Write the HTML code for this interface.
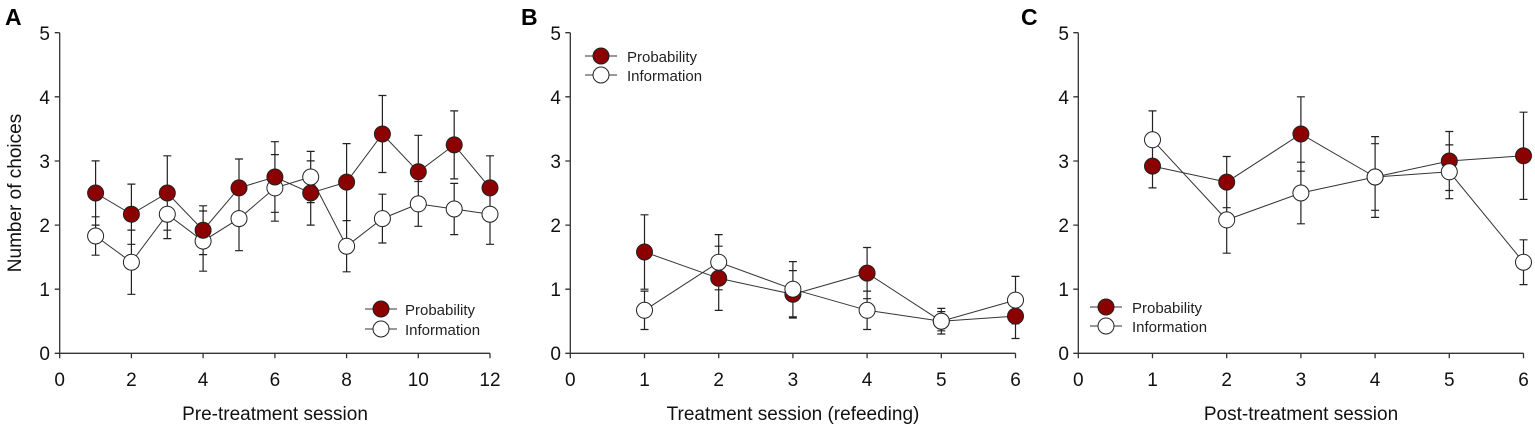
<!DOCTYPE html>
<html><head><meta charset="utf-8"><style>
html,body{margin:0;padding:0;background:#fff;}
svg{display:block;font-family:"Liberation Sans",Arial,sans-serif;}
.ax{stroke:#333;stroke-width:1.3;fill:none}
.eb{stroke:#222;stroke-width:1.2;fill:none}
.ln{stroke:#333;stroke-width:1;fill:none}
.p{fill:#8b0000;stroke:#222;stroke-width:1}
.i{fill:#fff;stroke:#222;stroke-width:1}
.tk{font-size:19px;fill:#111}
.tt{font-size:19px;fill:#111}
.lg{font-size:15px;fill:#222}
.let{font-size:23px;font-weight:bold;fill:#000}
circle{r:8px}
</style></head><body>
<svg width="1535" height="429" viewBox="0 0 1535 429">
<text class="let" x="5" y="25">A</text>
<text class="let" x="521" y="25">B</text>
<text class="let" x="1021" y="25">C</text>

<!-- ===== Panel A ===== -->
<path class="ax" d="M59.7 32.7 V353.3 H490 M54.7 32.7 H59.7 M54.7 96.8 H59.7 M54.7 161 H59.7 M54.7 225.1 H59.7 M54.7 289.2 H59.7 M54.7 353.3 H59.7
M59.7 353.3 V358.3 M131.4 353.3 V358.3 M203.1 353.3 V358.3 M274.9 353.3 V358.3 M346.6 353.3 V358.3 M418.3 353.3 V358.3 M490 353.3 V358.3"/>
<g class="tk" text-anchor="end">
<text x="50" y="40">5</text><text x="50" y="104">4</text><text x="50" y="168">3</text><text x="50" y="232">2</text><text x="50" y="296">1</text><text x="50" y="360">0</text>
</g>
<g class="tk" text-anchor="middle">
<text x="59.7" y="386">0</text><text x="131.4" y="386">2</text><text x="203.1" y="386">4</text><text x="274.9" y="386">6</text><text x="346.6" y="386">8</text><text x="418.3" y="386">10</text><text x="490" y="386">12</text>
</g>
<text class="tt" x="275" y="420" text-anchor="middle">Pre-treatment session</text>
<text class="tt" x="21" y="193" text-anchor="middle" transform="rotate(-90 21 193)">Number of choices</text>

<path class="eb" d="
M95.6 160.9V225.1M91.6 160.9H99.6M91.6 225.1H99.6
M131.4 184.1V244.3M127.4 184.1H135.4M127.4 244.3H135.4
M167.3 155.8V230.2M163.3 155.8H171.3M163.3 230.2H171.3
M203.1 205.8V254.6M199.1 205.8H207.1M199.1 254.6H207.1
M239 159V216.8M235 159H243M235 216.8H243
M274.9 141.7V212.3M270.9 141.7H278.9M270.9 212.3H278.9
M310.7 160.9V225.1M306.7 160.9H314.7M306.7 225.1H314.7
M346.6 143.6V220.6M342.6 143.6H350.6M342.6 220.6H350.6
M382.4 95.5V172.5M378.4 95.5H386.4M378.4 172.5H386.4
M418.3 135.3V208.3M414.3 135.3H422.3M414.3 208.3H422.3
M454.2 110.9V178.9M450.2 110.9H458.2M450.2 178.9H458.2
M490 155.8V220M486 155.8H494M486 220H494
M95.6 216.8V255.2M91.6 216.8H99.6M91.6 255.2H99.6
M131.4 230.1V294.3M127.4 230.1H135.4M127.4 294.3H135.4
M167.3 189.8V238.6M163.3 189.8H171.3M163.3 238.6H171.3
M203.1 211V271.2M199.1 211H207.1M199.1 271.2H207.1
M239 186.5V250.7M235 186.5H243M235 250.7H243
M274.9 154.6V221.2M270.9 154.6H278.9M270.9 221.2H278.9
M310.7 151.4V202.6M306.7 151.4H314.7M306.7 202.6H314.7
M346.6 220.6V271.8M342.6 220.6H350.6M342.6 271.8H350.6
M382.4 194.2V243M378.4 194.2H386.4M378.4 243H386.4
M418.3 181.5V226.3M414.3 181.5H422.3M414.3 226.3H422.3
M454.2 183.4V234.6M450.2 183.4H458.2M450.2 234.6H458.2
M490 184.1V244.3M486 184.1H494M486 244.3H494"/>
<polyline class="ln" points="95.6,236 131.4,262.2 167.3,214.2 203.1,241.1 239,218.6 274.9,187.9 310.7,177 346.6,246.2 382.4,218.6 418.3,203.9 454.2,209 490,214.2"/>
<polyline class="ln" points="95.6,193 131.4,214.2 167.3,193 203.1,230.2 239,187.9 274.9,177 310.7,193 346.6,182.1 382.4,134 418.3,171.8 454.2,144.9 490,187.9"/>
<g class="i">
<circle cx="95.6" cy="236" r="8"/><circle cx="131.4" cy="262.2" r="8"/><circle cx="167.3" cy="214.2" r="8"/><circle cx="203.1" cy="241.1" r="8"/><circle cx="239" cy="218.6" r="8"/><circle cx="274.9" cy="187.9" r="8"/><circle cx="310.7" cy="177" r="8"/><circle cx="346.6" cy="246.2" r="8"/><circle cx="382.4" cy="218.6" r="8"/><circle cx="418.3" cy="203.9" r="8"/><circle cx="454.2" cy="209" r="8"/><circle cx="490" cy="214.2" r="8"/>
</g>
<g class="p">
<circle cx="95.6" cy="193" r="8"/><circle cx="131.4" cy="214.2" r="8"/><circle cx="167.3" cy="193" r="8"/><circle cx="203.1" cy="230.2" r="8"/><circle cx="239" cy="187.9" r="8"/><circle cx="274.9" cy="177" r="8"/><circle cx="310.7" cy="193" r="8"/><circle cx="346.6" cy="182.1" r="8"/><circle cx="382.4" cy="134" r="8"/><circle cx="418.3" cy="171.8" r="8"/><circle cx="454.2" cy="144.9" r="8"/><circle cx="490" cy="187.9" r="8"/>
</g>
<path class="ln" d="M365 309H397M365 329H397"/>
<circle class="p" cx="381" cy="309" r="7.5"/><circle class="i" cx="381" cy="329" r="7.5"/>
<text class="lg" x="405" y="315">Probability</text><text class="lg" x="405" y="335">Information</text>

<!-- ===== Panel B ===== -->
<path class="ax" d="M570.3 32.7 V353.3 H1015.5 M565.3 32.7 H570.3 M565.3 96.8 H570.3 M565.3 161 H570.3 M565.3 225.1 H570.3 M565.3 289.2 H570.3 M565.3 353.3 H570.3
M570.3 353.3 V358.3 M644.5 353.3 V358.3 M718.7 353.3 V358.3 M792.9 353.3 V358.3 M867.1 353.3 V358.3 M941.3 353.3 V358.3 M1015.5 353.3 V358.3"/>
<g class="tk" text-anchor="end">
<text x="561" y="40">5</text><text x="561" y="104">4</text><text x="561" y="168">3</text><text x="561" y="232">2</text><text x="561" y="296">1</text><text x="561" y="360">0</text>
</g>
<g class="tk" text-anchor="middle">
<text x="570.3" y="386">0</text><text x="644.5" y="386">1</text><text x="718.7" y="386">2</text><text x="792.9" y="386">3</text><text x="867.1" y="386">4</text><text x="941.3" y="386">5</text><text x="1015.5" y="386">6</text>
</g>
<text class="tt" x="793" y="420" text-anchor="middle">Treatment session (refeeding)</text>
<path class="eb" d="
M644.5 214.8V289.2M640.5 214.8H648.5M640.5 289.2H648.5
M718.7 246.2V310.4M714.7 246.2H722.7M714.7 310.4H722.7
M792.9 270.6V318M788.9 270.6H796.9M788.9 318H796.9
M867.1 247.5V298.7M863.1 247.5H871.1M863.1 298.7H871.1
M941.3 311.6V330.8M937.3 311.6H945.3M937.3 330.8H945.3
M1015.5 293.7V338.5M1011.5 293.7H1019.5M1011.5 338.5H1019.5
M644.5 291.1V329.5M640.5 291.1H648.5M640.5 329.5H648.5
M718.7 234.6V289.8M714.7 234.6H722.7M714.7 289.8H722.7
M792.9 261.6V316.8M788.9 261.6H796.9M788.9 316.8H796.9
M867.1 291.1V329.5M863.1 291.1H871.1M863.1 329.5H871.1
M941.3 308.4V334M937.3 308.4H945.3M937.3 334H945.3
M1015.5 276.4V323.8M1011.5 276.4H1019.5M1011.5 323.8H1019.5"/>
<polyline class="ln" points="644.5,310.3 718.7,262.2 792.9,289.2 867.1,310.3 941.3,321.2 1015.5,300.1"/>
<polyline class="ln" points="644.5,252 718.7,278.3 792.9,294.3 867.1,273.1 941.3,321.2 1015.5,316.1"/>
<g class="p">
<circle cx="644.5" cy="252" r="8"/><circle cx="718.7" cy="278.3" r="8"/><circle cx="792.9" cy="294.3" r="8"/><circle cx="867.1" cy="273.1" r="8"/><circle cx="941.3" cy="321.2" r="8"/><circle cx="1015.5" cy="316.1" r="8"/>
</g>
<g class="i">
<circle cx="644.5" cy="310.3" r="8"/><circle cx="718.7" cy="262.2" r="8"/><circle cx="792.9" cy="289.2" r="8"/><circle cx="867.1" cy="310.3" r="8"/><circle cx="941.3" cy="321.2" r="8"/><circle cx="1015.5" cy="300.1" r="8"/>
</g>
<path class="ln" d="M585 56H617M585 75H617"/>
<circle class="p" cx="601" cy="56" r="7.5"/><circle class="i" cx="601" cy="75" r="7.5"/>
<text class="lg" x="627" y="62">Probability</text><text class="lg" x="627" y="81">Information</text>

<!-- ===== Panel C ===== -->
<path class="ax" d="M1078.3 32.7 V353.3 H1523.5 M1073.3 32.7 H1078.3 M1073.3 96.8 H1078.3 M1073.3 161 H1078.3 M1073.3 225.1 H1078.3 M1073.3 289.2 H1078.3 M1073.3 353.3 H1078.3
M1078.3 353.3 V358.3 M1152.5 353.3 V358.3 M1226.7 353.3 V358.3 M1300.9 353.3 V358.3 M1375.1 353.3 V358.3 M1449.3 353.3 V358.3 M1523.5 353.3 V358.3"/>
<g class="tk" text-anchor="end">
<text x="1069" y="40">5</text><text x="1069" y="104">4</text><text x="1069" y="168">3</text><text x="1069" y="232">2</text><text x="1069" y="296">1</text><text x="1069" y="360">0</text>
</g>
<g class="tk" text-anchor="middle">
<text x="1078.3" y="386">0</text><text x="1152.5" y="386">1</text><text x="1226.7" y="386">2</text><text x="1300.9" y="386">3</text><text x="1375.1" y="386">4</text><text x="1449.3" y="386">5</text><text x="1523.5" y="386">6</text>
</g>
<text class="tt" x="1301" y="420" text-anchor="middle">Post-treatment session</text>
<path class="eb" d="
M1152.5 144.3V187.9M1148.5 144.3H1156.5M1148.5 187.9H1156.5
M1226.7 156.5V207.7M1222.7 156.5H1230.7M1222.7 207.7H1230.7
M1300.9 96.8V171.2M1296.9 96.8H1304.9M1296.9 171.2H1304.9
M1375.1 143.7V210.3M1371.1 143.7H1379.1M1371.1 210.3H1379.1
M1449.3 131.5V190.5M1445.3 131.5H1453.3M1445.3 190.5H1453.3
M1523.5 112.2V199.4M1519.5 112.2H1527.5M1519.5 199.4H1527.5
M1152.5 110.9V168.7M1148.5 110.9H1156.5M1148.5 168.7H1156.5
M1226.7 186.6V253.2M1222.7 186.6H1230.7M1222.7 253.2H1230.7
M1300.9 162.2V223.8M1296.9 162.2H1304.9M1296.9 223.8H1304.9
M1375.1 136.6V217.4M1371.1 136.6H1379.1M1371.1 217.4H1379.1
M1449.3 144.9V198.7M1445.3 144.9H1453.3M1445.3 198.7H1453.3
M1523.5 239.8V284.6M1519.5 239.8H1527.5M1519.5 284.6H1527.5"/>
<polyline class="ln" points="1152.5,139.8 1226.7,219.9 1300.9,193 1375.1,177 1449.3,171.8 1523.5,262.2"/>
<polyline class="ln" points="1152.5,166.1 1226.7,182.1 1300.9,134 1375.1,177 1449.3,161 1523.5,155.8"/>
<g class="p">
<circle cx="1152.5" cy="166.1" r="8"/><circle cx="1226.7" cy="182.1" r="8"/><circle cx="1300.9" cy="134" r="8"/><circle cx="1375.1" cy="177" r="8"/><circle cx="1449.3" cy="161" r="8"/><circle cx="1523.5" cy="155.8" r="8"/>
</g>
<g class="i">
<circle cx="1152.5" cy="139.8" r="8"/><circle cx="1226.7" cy="219.9" r="8"/><circle cx="1300.9" cy="193" r="8"/><circle cx="1375.1" cy="177" r="8"/><circle cx="1449.3" cy="171.8" r="8"/><circle cx="1523.5" cy="262.2" r="8"/>
</g>
<path class="ln" d="M1090 307H1122M1090 326H1122"/>
<circle class="p" cx="1106" cy="307" r="7.5"/><circle class="i" cx="1106" cy="326" r="7.5"/>
<text class="lg" x="1132" y="313">Probability</text><text class="lg" x="1132" y="332">Information</text>
</svg>
</body></html>
